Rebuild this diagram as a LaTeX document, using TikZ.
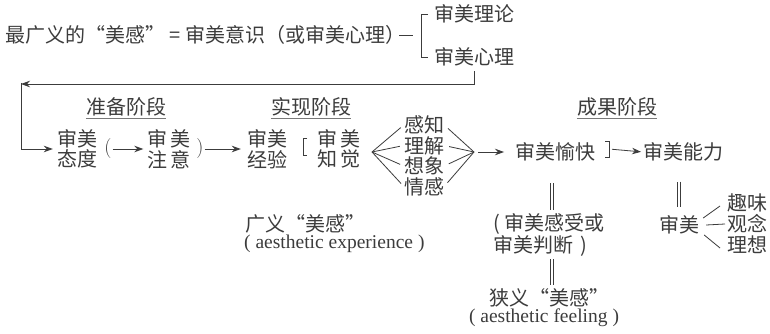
\documentclass[tikz,border=0pt]{standalone}
\usepackage{fontspec}
\newfontfamily\cjk{Noto Sans CJK SC}
\newfontfamily\enfont{Liberation Serif}
\usetikzlibrary{arrows.meta}
\definecolor{ink}{RGB}{60,60,60}
\definecolor{inkl}{RGB}{120,120,120}
\begin{document}
\begin{tikzpicture}[x=1pt,y=-1pt,
  txt/.style={font=\cjk\fontsize{20}{20.5}\selectfont, text=ink, inner sep=0pt},
  two/.style={txt, align=center},
  eng/.style={font=\enfont\fontsize{19.5}{20}\selectfont, text=ink, inner sep=0pt},
  ln/.style={draw=ink, line width=0.8pt},
  arr/.style={ln, -{Stealth[length=9pt,width=6.5pt]}},
  dbl/.style={draw=ink, double=white, double distance=2.4pt, line width=0.7pt},
  uline/.style={draw=inkl, line width=0.7pt}]
\fill[white] (0,0) rectangle (770,334);
\useasboundingbox (0,0) rectangle (770,334);

% ---- row 1
\node[txt, anchor=west] (t1) at (5,35) {最广义的“美感” = 审美意识（或审美心理）};
\coordinate (dashend) at (413,35);
\node[txt, anchor=west] (a1) at (434,14) {审美理论};
\node[txt, anchor=west] (a2) at (434,57) {审美心理};
\draw[ln] ([xshift=-6pt]t1.east) -- (dashend);
\draw[ln] ([xshift=-6pt]a1.west) -- ([xshift=-13pt]a1.west) -- ([xshift=-13pt]a2.west) -- ([xshift=-6pt]a2.west);

% ---- stage labels
\node[txt] (sa) at (126,107) {准备阶段};
\node[txt] (sb) at (311,107) {实现阶段};
\node[txt] (sc) at (617,107) {成果阶段};
\foreach \s in {sa,sb,sc}
  \draw[uline] ([yshift=-2pt]\s.south west) -- ([yshift=-2pt]\s.south east);

% ---- main row
\node[two] (n1) at (77,149) {审美\\态度};
\node[eng, font=\fontsize{20}{20}\selectfont] (p1) at (108,149) {(};
\node[two] (n2) at (169,149) {审\hspace{3pt}美\\注\hspace{3pt}意};
\node[eng, font=\fontsize{20}{20}\selectfont] (p2) at (200,149) {)};
\node[two] (n3) at (267,149) {审美\\经验};
\node[two] (n4) at (339,149) {审\hspace{3pt}美\\知\hspace{3pt}觉};
\coordinate (bk) at (305,147);
\draw[ln] ([shift={(2pt,9pt)}]bk) -- ([shift={(-2pt,9pt)}]bk) -- ([shift={(-2pt,-8pt)}]bk) -- ([shift={(2pt,-8pt)}]bk);

\node[txt] (k1) at (424,125) {感知};
\node[txt] (k2) at (424,145.5) {理解};
\node[txt] (k3) at (424,166) {想象};
\node[txt] (k4) at (424,186.5) {情感};
\coordinate (L) at (372,152);
\coordinate (R) at (474,152);
\foreach \k in {k1,k2,k3,k4}{
  \draw[ln, shorten >=4pt] (L) -- (\k.west);
  \draw[ln, shorten <=5pt] (\k.east) -- (R);
}

\node[txt, anchor=west] (r1) at (515,152) {审美愉快};
\node[txt, anchor=west] (r2) at (643,152) {审美能力};
\draw[arr, shorten <=4pt, shorten >=11pt] (R) -- (r1.west);
\coordinate (bk2) at (608,149);
\draw[ln] ([shift={(-3pt,8pt)}]bk2) -- ([shift={(1pt,8pt)}]bk2) -- ([shift={(1pt,-8pt)}]bk2) -- ([shift={(-3pt,-8pt)}]bk2);
\draw[arr, shorten <=3pt, shorten >=2pt] ([xshift=1pt]bk2) -- (r2.west);

% ---- left part arrows
\coordinate (tl) at (21,84);
\coordinate (bl) at (21,149);
\draw[arr, shorten <=5pt] (a2.south) |- (tl);
\draw[ln] ([yshift=1pt]tl) -- (bl);
\draw[arr, shorten >=4pt] (bl) -- (n1.west);
\draw[arr, shorten <=1pt, shorten >=4pt] (p1.east) -- (n2.west);
\draw[arr, shorten <=1pt, shorten >=6pt] (p2.east) -- (n3.west);

% ---- lower part
\node[txt, anchor=west] (g1) at (245,224) {广义“美感”};
\node[eng, anchor=west] (g2) at (244,244) {( aesthetic experience )};

\node[txt, align=left, anchor=north west] (s1) at (493,213) {(\hspace{5pt}审美感受或\\审美判断\hspace{7pt})};
\node[txt] (t3) at (549,298) {狭义“美感”};
\node[eng] (t4) at (544,318) {( aesthetic feeling )};
\coordinate (v1) at (552,183);
\coordinate (v2) at (552,210);
\draw[dbl] (v1) -- (v2);
\draw[dbl, shorten <=3pt, shorten >=4pt] (s1.south -| v2) -- (t3.north -| v2);

\node[txt] (b2) at (679,225) {审美};
\draw[dbl, shorten <=20pt, shorten >=9pt] (r2.south -| b2.north) -- (b2.north);
\node[txt, anchor=west] (q1) at (727,203) {趣味};
\node[txt, anchor=west] (q2) at (727,224) {观念};
\node[txt, anchor=west] (q3) at (727,245) {理想};
\draw[ln] ([shift={(4pt,7pt)}]b2.east) -- ([shift={(-7pt,-3pt)}]q1.west);
\draw[ln] ([shift={(7pt,0pt)}]b2.east) -- ([shift={(-2pt,0pt)}]q2.west);
\draw[ln] ([shift={(5pt,-10pt)}]b2.east) -- ([shift={(-7pt,-3pt)}]q3.west);
\end{tikzpicture}
\end{document}
